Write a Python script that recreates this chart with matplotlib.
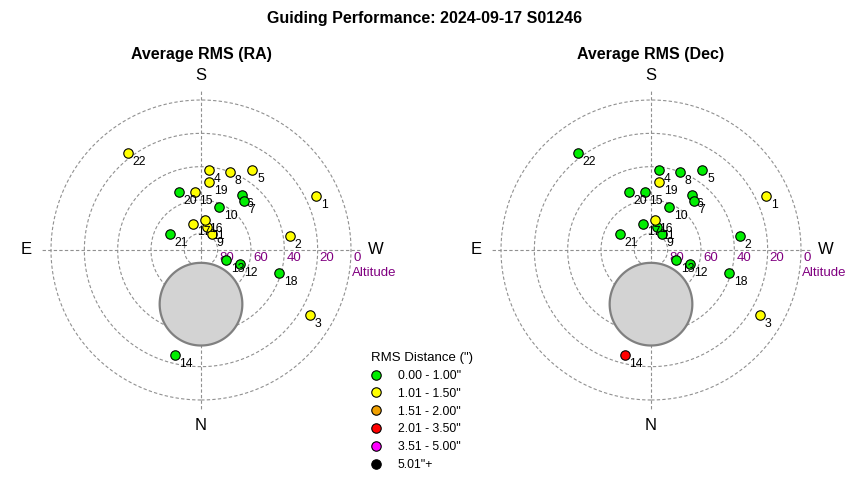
import numpy as np
import matplotlib
matplotlib.use('Agg')
import matplotlib.pyplot as plt
from matplotlib.lines import Line2D

plt.rcParams['font.family'] = ['Liberation Sans', 'DejaVu Sans']

main_title = "Guiding Performance: 2024-09-17 S01246"
panel_titles = ["Average RMS (RA)", "Average RMS (Dec)"]

point_ids = list(range(1, 23))
azimuth = [245.1, 261.2, 300.9, 185.7, 212.8, 216.6, 221.2, 200.3, 214.2, 202.9,
           194.8, 289.9, 292.5, 14.0, 173.7, 187.0, 162.4, 286.4, 186.7, 158.8,
           116.8, 142.8]
altitude = [13.7, 36.2, 14.0, 42.0, 33.1, 49.1, 51.2, 40.3, 78.6, 62.2,
            75.9, 65.3, 73.8, 24.9, 55.2, 72.1, 73.4, 41.0, 49.1, 52.9,
            69.2, 17.2]
# RMS class of each point (index into class_labels)
ra_class = [1, 1, 1, 1, 1, 0, 0, 1, 1, 0, 1, 0, 0, 0, 1, 1, 1, 0, 1, 0, 0, 1]
dec_class = [1, 0, 1, 0, 0, 0, 0, 0, 0, 0, 0, 0, 0, 3, 0, 1, 0, 0, 1, 0, 0, 0]

class_labels = ['0.00 - 1.00"', '1.01 - 1.50"', '1.51 - 2.00"',
                '2.01 - 3.50"', '3.51 - 5.00"', '5.01"+']
class_colors = ['#00ee00', '#ffff00', '#f0a000', '#ff0000', '#ff00ff', '#000000']

ring_altitudes = [80, 60, 40, 20, 0]
compass = [('N', 0), ('E', 90), ('S', 180), ('W', 270)]

pole_az = 0.0
pole_alt = 57.5
pole_radius = 24.8

fig = plt.figure(figsize=(8.5, 4.8), dpi=100)
fig.patch.set_facecolor('white')

W, H = 850.0, 480.0
centers_x = [201, 651]
cy = 250
half = 160  # px for r = 96

fig.text(0.5, 1 - 18 / H, main_title, ha='center', va='center',
         fontsize=11.5, fontweight='bold')

for k, (cx, classes) in enumerate(zip(centers_x, [ra_class, dec_class])):
    ax = fig.add_axes([(cx - half) / W, (H - cy - half) / H, 2 * half / W, 2 * half / H],
                      projection='polar')
    ax.set_theta_zero_location('S')
    ax.set_theta_direction(-1)
    ax.set_rlim(0, 96)
    ax.set_xticks([])
    ax.set_yticks([])
    ax.grid(False)
    ax.spines['polar'].set_visible(False)
    ax.patch.set_visible(False)

    fig.text(cx / W, 1 - 55 / H, panel_titles[k], ha='center', va='center',
             fontsize=11.5, fontweight='bold')

    t = np.linspace(0, 2 * np.pi, 721)
    for alt in ring_altitudes:
        ax.plot(t, np.full_like(t, 90 - alt), color='#909090', lw=0.8,
                dashes=(3, 2), zorder=1)
    for th in [0, 90, 180, 270]:
        ax.plot([np.radians(th)] * 2, [0, 96], color='#909090', lw=0.8,
                dashes=(3, 2), zorder=1)

    # pole region circle
    pr = 90 - pole_alt
    px = pr * np.sin(np.radians(pole_az))
    py = pr * np.cos(np.radians(pole_az))
    ccx = px + pole_radius * np.cos(t)
    ccy = py + pole_radius * np.sin(t)
    ax.fill(np.arctan2(ccx, ccy), np.hypot(ccx, ccy), facecolor='#d3d3d3',
            edgecolor='#808080', lw=1.6, zorder=2)

    for name, az in compass:
        ax.text(np.radians(az), 105, name, ha='center', va='center', fontsize=12)

    for alt in ring_altitudes:
        ax.annotate(str(alt), (np.radians(270), 90 - alt), xytext=(1.5, -1.2),
                    textcoords='offset points', ha='left', va='top',
                    fontsize=9.5, color='#800080', zorder=3)
    ax.annotate('Altitude', (np.radians(270), 90), xytext=(0.8, -12.5),
                textcoords='offset points', ha='left', va='top',
                fontsize=9.5, color='#800080', zorder=3)

    for i, (pid, az, alt, c) in enumerate(zip(point_ids, azimuth, altitude, classes)):
        ax.plot(np.radians(az), 90 - alt, 'o', ms=6.8, mfc=class_colors[c],
                mec='black', mew=0.8, zorder=10 + 2 * i, clip_on=False)
        ax.annotate(str(pid), (np.radians(az), 90 - alt), xytext=(3.5, -1.8),
                    textcoords='offset points', ha='left', va='top',
                    fontsize=8.8, zorder=11 + 2 * i)

handles = [Line2D([], [], marker='o', ls='none', ms=6.8, mfc=c, mec='black', mew=0.8)
           for c in class_colors]
leg = fig.legend(handles, class_labels, title='RMS Distance (")', loc='upper left',
                 bbox_to_anchor=(371 / W, 1 - 352 / H), frameon=False, fontsize=8.8,
                 title_fontsize=9.5, alignment='left', borderpad=0, borderaxespad=0,
                 handlelength=0.75, handletextpad=1.45, labelspacing=0.48)

fig.savefig('out.png', dpi=100, facecolor='white')
